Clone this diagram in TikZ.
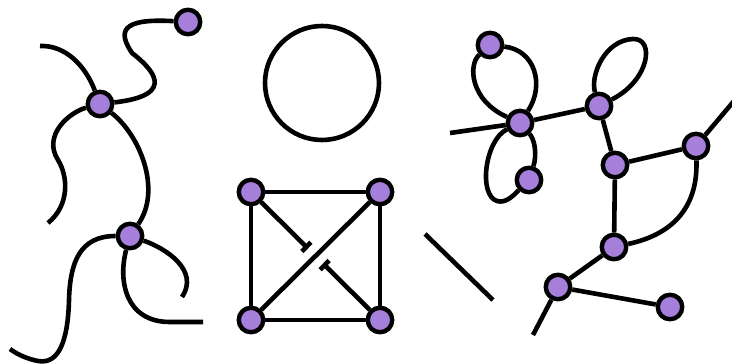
\documentclass[tikz,border=0pt]{standalone}
\usetikzlibrary{arrows.meta}
\definecolor{nodefill}{RGB}{166,127,219}
\begin{document}
\begin{tikzpicture}[x=1pt,y=-1pt,
  vtx/.style={circle,draw=black,fill=nodefill,line width=4.4pt,minimum size=24.5pt,inner sep=0pt},
  edge/.style={line width=4.6pt,black},
  barend/.style={edge,-{Bar[width=13pt,length=4.6pt]}}]
\useasboundingbox (0,0) rectangle (732,364);
% left panel
\node[vtx] (A1) at (188,22) {};
\node[vtx] (A2) at (100,104) {};
\node[vtx] (A3) at (130,236) {};
\coordinate (a0) at (40,46);
\coordinate (a1) at (48,223);
\coordinate (a2) at (10,349);
\coordinate (a3) at (182,297);
\coordinate (a4) at (203,322);
\draw[edge] (A1) .. controls (120,18) and (118,32) .. (132,53)
  .. controls (150,67) and (180,95) .. (A2);
\draw[edge] (a0) .. controls (65,45) and (85,65) .. (A2);
\draw[edge] (A2) .. controls (70,112) and (42,135) .. (58,160)
  .. controls (68,176) and (70,205) .. (a1);
\draw[edge] (A2) .. controls (140,135) and (162,190) .. (A3);
\draw[edge] (A3) .. controls (80,236) and (70,262) .. (69,300)
  .. controls (68,338) and (60,365) .. (38,361)
  .. controls (28,359) and (18,355) .. (a2);
\draw[edge] (A3) .. controls (165,248) and (200,270) .. (a3);
\draw[edge] (A3) .. controls (118,280) and (125,322) .. (170,322) -- (a4);
% middle panel
\node[circle,draw=black,line width=4.6pt,minimum size=114pt,inner sep=0pt] (C) at (322,83) {};
\node[vtx] (S1) at (251,192) {};
\node[vtx] (S2) at (380,192) {};
\node[vtx] (S3) at (251,320) {};
\node[vtx] (S4) at (380,320) {};
\coordinate (s1) at (308,248.5);
\coordinate (s4) at (323,263.5);
\draw[edge] (S1) -- (S2);
\draw[edge] (S2) -- (S4);
\draw[edge] (S4) -- (S3);
\draw[edge] (S3) -- (S1);
\draw[edge] (S3) -- (S2);
\draw[barend] (S1) -- (s1);
\draw[barend] (S4) -- (s4);
\coordinate (l1) at (425,234);
\coordinate (l2) at (493,300);
\draw[edge] (l1) -- (l2);
% right panel
\node[vtx] (R1) at (490,45) {};
\node[vtx] (R2) at (520,123) {};
\node[vtx] (R3) at (529,180) {};
\node[vtx] (R4) at (599,106) {};
\node[vtx] (R5) at (615,165) {};
\node[vtx] (R6) at (696,146) {};
\node[vtx] (R7) at (614,247) {};
\node[vtx] (R8) at (558,287) {};
\node[vtx] (R9) at (670,307) {};
\coordinate (r0) at (450,133);
\coordinate (r1) at (734,101);
\coordinate (r2) at (533,335);
\draw[edge] (R1) .. controls (535,50) and (545,85) .. (R2);
\draw[edge] (R1) .. controls (468,65) and (470,100) .. (R2);
\draw[edge] (r0) -- (R2);
\draw[edge] (R2) .. controls (535,140) and (537,155) .. (R3);
\draw[edge] (R2) .. controls (485,140) and (478,195) .. (497,201)
  .. controls (505,203.5) and (512,197) .. (R3);
\draw[edge] (R2) -- (R4);
\draw[edge] (R4) .. controls (590,75) and (605,40) .. (633,39)
  .. controls (655,38) and (650,80) .. (R4);
\draw[edge] (R4) -- (R5);
\draw[edge] (R5) -- (R6);
\draw[edge] (R6) -- (r1);
\draw[edge] (R6) .. controls (698,210) and (670,235) .. (R7);
\draw[edge] (R5) -- (R7);
\draw[edge] (R7) -- (R8);
\draw[edge] (R8) -- (R9);
\draw[edge] (R8) -- (r2);
\end{tikzpicture}
\end{document}
